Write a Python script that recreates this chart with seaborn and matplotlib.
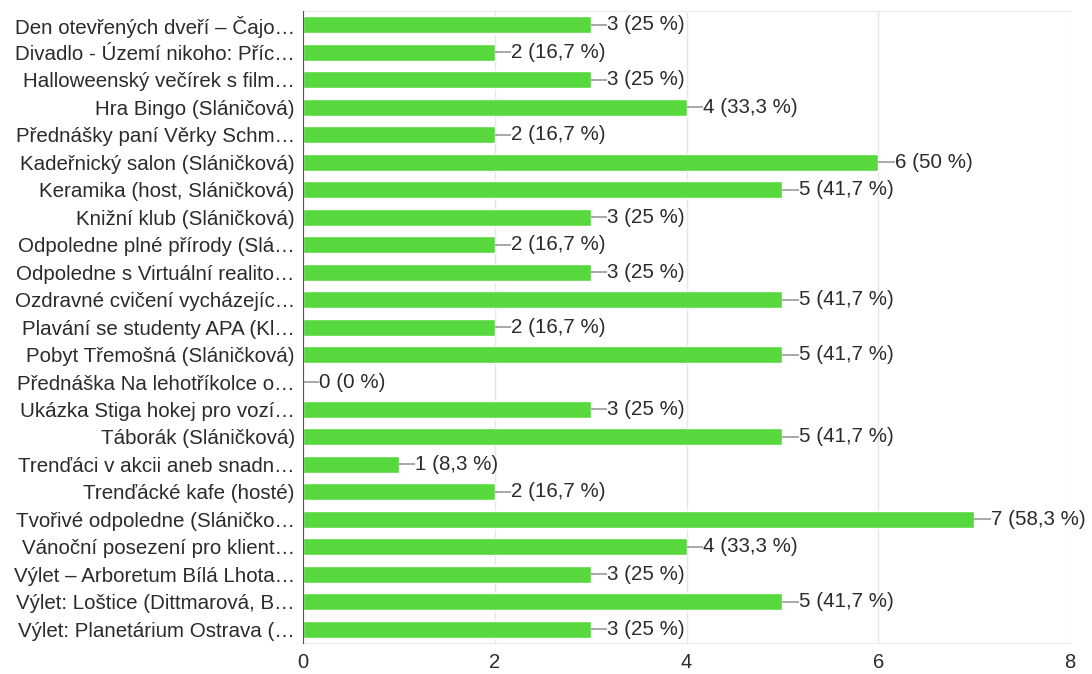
import matplotlib
matplotlib.use("Agg")
import matplotlib.pyplot as plt
import seaborn as sns
import pandas as pd

labels = [
    "Den otevřených dveří – Čajo…",
    "Divadlo - Území nikoho: Příc…",
    "Halloweenský večírek s film…",
    "Hra Bingo (Sláničová)",
    "Přednášky paní Věrky Schm…",
    "Kadeřnický salon (Sláničková)",
    "Keramika (host, Sláničková)",
    "Knižní klub (Sláničková)",
    "Odpoledne plné přírody (Slá…",
    "Odpoledne s Virtuální realito…",
    "Ozdravné cvičení vycházejíc…",
    "Plavání se studenty APA (Kl…",
    "Pobyt Třemošná (Sláničková)",
    "Přednáška Na lehotříkolce o…",
    "Ukázka Stiga hokej pro vozí…",
    "Táborák (Sláničková)",
    "Trenďáci v akcii aneb snadn…",
    "Trenďácké kafe (hosté)",
    "Tvořivé odpoledne (Sláničko…",
    "Vánoční posezení pro klient…",
    "Výlet – Arboretum Bílá Lhota…",
    "Výlet: Loštice (Dittmarová, B…",
    "Výlet: Planetárium Ostrava (…",
]
counts = [3, 2, 3, 4, 2, 6, 5, 3, 2, 3, 5, 2, 5, 0, 3, 5, 1, 2, 7, 4, 3, 5, 3]
percents = ["25", "16,7", "25", "33,3", "16,7", "50", "41,7", "25", "16,7", "25",
            "41,7", "16,7", "41,7", "0", "25", "41,7", "8,3", "16,7", "58,3",
            "33,3", "25", "41,7", "25"]

df = pd.DataFrame({"label": labels, "count": counts, "pct": percents})

sns.set_style("white")
plt.rcParams["font.family"] = ["Liberation Sans", "DejaVu Sans"]

fig = plt.figure(figsize=(10.92, 6.74), dpi=100)
ax = fig.add_axes([0.2775, 0.046, 0.7025, 0.9375])

sns.barplot(data=df, x="count", y="label", orient="h", color="#57d93d",
            saturation=1, width=0.62, ax=ax, zorder=3)

# spojovací čárka + popisek hodnoty
for i, row in df.iterrows():
    x0 = row["count"]
    ax.plot([x0, x0 + 0.17], [i, i], color="#999999", lw=1.2, zorder=3,
            solid_capstyle="butt")
    ax.text(x0 + 0.17, i, f"{row['count']} ({row['pct']} %)", va="center",
            ha="left", fontsize=14.8, color="#2b2b2b")

ax.set_xlim(0, 8)
ax.set_ylim(len(labels) - 0.5, -0.5)
ax.set_xticks([0, 2, 4, 6, 8])
ax.grid(axis="x", color="#e6e6e6", lw=1, zorder=0)
ax.set_xlabel("")
ax.set_ylabel("")
ax.spines["right"].set_visible(False)
for s in ["top", "bottom"]:
    ax.spines[s].set_color("#ececec")
    ax.spines[s].set_linewidth(1)
ax.spines["left"].set_color("#555555")
ax.spines["left"].set_zorder(4)
ax.tick_params(axis="y", length=0, pad=6, labelsize=14.8, labelcolor="#2b2b2b")
ax.tick_params(axis="x", length=0, pad=7, labelsize=14.5, labelcolor="#2b2b2b")

fig.savefig("out.png", dpi=100)
